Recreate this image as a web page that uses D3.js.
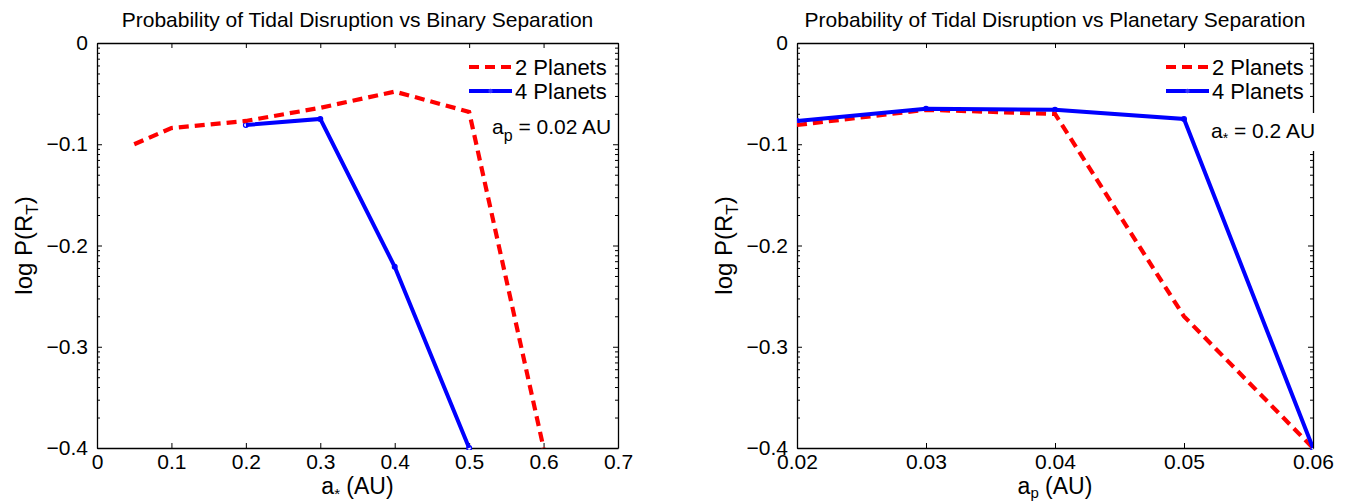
<!DOCTYPE html>
<html>
<head>
<meta charset="utf-8">
<script src="https://cdn.jsdelivr.net/npm/d3@7"></script>
<style>
  html, body { margin: 0; padding: 0; background: #fff; }
  svg { display: block; }
  text { font-family: "Liberation Sans", Arial, Helvetica, sans-serif; fill: #000; }
</style>
</head>
<body>
<svg id="chart" width="1345" height="502"></svg>
<script>
// ---------- data ----------
const binarySep2 = [0.05, 0.1, 0.2, 0.3, 0.4, 0.5, 0.6];
const binaryP2   = [-0.100, -0.084, -0.077, -0.064, -0.048, -0.068, -0.400];
const binarySep4 = [0.2, 0.3, 0.4, 0.5];
const binaryP4   = [-0.081, -0.075, -0.221, -0.400];

const planetSep  = [0.02, 0.03, 0.04, 0.05, 0.06];
const planetP2   = [-0.081, -0.066, -0.070, -0.270, -0.400];
const planetP4   = [-0.077, -0.065, -0.066, -0.075, -0.400];

const yTicks       = [0, -0.1, -0.2, -0.3, -0.4];
const xTicksLeft   = [0, 0.1, 0.2, 0.3, 0.4, 0.5, 0.6, 0.7];
const xTicksRight  = [0.02, 0.03, 0.04, 0.05, 0.06];
const xLabelsLeft  = ["0", "0.1", "0.2", "0.3", "0.4", "0.5", "0.6", "0.7"];
const xLabelsRight = ["0.02", "0.03", "0.04", "0.05", "0.06"];
const yLabels      = ["0", "\u22120.1", "\u22120.2", "\u22120.3", "\u22120.4"];
const seriesNames  = ["2 Planets", "4 Planets"];
const titles = ["Probability of Tidal Disruption vs Binary Separation",
                "Probability of Tidal Disruption vs Planetary Separation"];

// ---------- drawing ----------
const svg = d3.select("#chart");
const RED = "#ff0000", BLUE = "#0000ff";

function drawPanel(cfg, idx) {
  const x = d3.scaleLinear().domain(cfg.xDomain).range([cfg.left, cfg.right]);
  const y = d3.scaleLinear().domain([0, -0.4]).range([43, 448]);
  const g = svg.append("g");

  const clipId = "clip" + idx;
  svg.append("clipPath").attr("id", clipId).append("rect")
    .attr("x", cfg.left).attr("y", 43 - 2)
    .attr("width", cfg.right - cfg.left).attr("height", 448 - 43 + 4);

  // minor ticks on y (log-like pattern as in the original)
  const minor = [];
  yTicks.slice(0, -1).forEach(m => {
    for (let k = 2; k <= 9; k++) minor.push(m - 0.1 * (1 - Math.log10(k)));
  });

  const fmtX = (d, i) => cfg.xLabels[i];
  const axB = g.append("g").attr("transform", `translate(0,448)`)
    .call(d3.axisBottom(x).tickValues(cfg.xTicks).tickFormat(fmtX).tickSizeInner(-5).tickSizeOuter(0).tickPadding(6));
  g.append("g").attr("transform", `translate(0,43)`)
    .call(d3.axisTop(x).tickValues(cfg.xTicks).tickFormat("").tickSizeInner(-5).tickSizeOuter(0));
  g.append("g").attr("transform", `translate(${cfg.left},0)`)
    .call(d3.axisLeft(y).tickValues(yTicks).tickFormat((d, i) => yLabels[i]).tickSizeInner(-5).tickSizeOuter(0).tickPadding(9));
  g.append("g").attr("transform", `translate(${cfg.right},0)`)
    .call(d3.axisRight(y).tickValues(yTicks).tickFormat("").tickSizeInner(-5).tickSizeOuter(0));
  g.append("g").attr("transform", `translate(${cfg.left},0)`)
    .call(d3.axisLeft(y).tickValues(minor).tickFormat("").tickSizeInner(-3).tickSizeOuter(0))
    .select(".domain").remove();
  g.append("g").attr("transform", `translate(${cfg.right},0)`)
    .call(d3.axisRight(y).tickValues(minor).tickFormat("").tickSizeInner(-3).tickSizeOuter(0))
    .select(".domain").remove();

  g.selectAll(".domain").attr("stroke", "#000").attr("stroke-width", 1.3);
  g.selectAll(".tick line").attr("stroke", "#000").attr("stroke-width", 1);
  g.selectAll(".tick text").attr("font-size", 21).attr("font-family", '"Liberation Sans", Arial, sans-serif').attr("fill", "#000");
  axB.selectAll(".tick text").attr("dy", "0.71em");

  // title
  g.append("text").attr("x", (cfg.left + cfg.right) / 2).attr("y", 27)
    .attr("text-anchor", "middle").attr("font-size", 21).text(cfg.title);

  // x label
  const xl = g.append("text").attr("x", (cfg.left + cfg.right) / 2).attr("y", 494)
    .attr("text-anchor", "middle").attr("font-size", 23);
  xl.append("tspan").text("a");
  xl.append("tspan").attr("font-size", cfg.xSubSize).attr("dy", cfg.xSubDy).text(cfg.xSub);
  xl.append("tspan").attr("dy", -cfg.xSubDy).text(" (AU)");

  // y label
  const yl = g.append("text").attr("transform", `translate(${cfg.left - 65},245.5) rotate(-90)`)
    .attr("text-anchor", "middle").attr("font-size", 24);
  yl.append("tspan").text("log P(R");
  yl.append("tspan").attr("font-size", 17).attr("dy", 6).text("T");
  yl.append("tspan").attr("dy", -6).text(")");

  // lines
  const line = d3.line().x(d => x(d[0])).y(d => y(d[1]));
  const plot = g.append("g").attr("clip-path", `url(#${clipId})`);
  const d4 = cfg.x4.map((v, i) => [v, cfg.y4[i]]);
  const d2 = cfg.x2.map((v, i) => [v, cfg.y2[i]]);

  plot.selectAll("circle.m4").data(d4).enter().append("circle")
    .attr("cx", d => x(d[0])).attr("cy", d => y(d[1])).attr("r", 2.4)
    .attr("fill", "#fff").attr("stroke", BLUE).attr("stroke-width", 1.2);
  plot.append("path").datum(d2).attr("d", line).attr("fill", "none")
    .attr("stroke", RED).attr("stroke-width", 4.2).attr("stroke-dasharray", "10,6");
  plot.append("path").datum(d4).attr("d", line).attr("fill", "none")
    .attr("stroke", BLUE).attr("stroke-width", 4);

  // legend
  const lx0 = cfg.legX, lx1 = cfg.legX + 43;
  g.append("line").attr("x1", lx0).attr("x2", lx1).attr("y1", 67).attr("y2", 67)
    .attr("stroke", RED).attr("stroke-width", 4.2).attr("stroke-dasharray", "10,6");
  g.append("line").attr("x1", lx0).attr("x2", lx1).attr("y1", 91).attr("y2", 91)
    .attr("stroke", BLUE).attr("stroke-width", 4);
  g.append("circle").attr("cx", (lx0 + lx1) / 2).attr("cy", 91).attr("r", 2.2).attr("fill", "#3333ff");
  g.append("text").attr("x", lx1 + 3).attr("y", 75).attr("font-size", 22).text(seriesNames[0]);
  g.append("text").attr("x", lx1 + 3).attr("y", 99).attr("font-size", 22).text(seriesNames[1]);

  // annotation
  if (cfg.noteBg) {
    g.append("rect").attr("x", cfg.noteX - 4).attr("y", 113).attr("width", 116).attr("height", 38).attr("fill", "#fff");
  }
  const nt = g.append("text").attr("x", cfg.noteX).attr("y", cfg.noteY).attr("font-size", 21);
  nt.append("tspan").text("a");
  nt.append("tspan").attr("font-size", cfg.noteSubSize).attr("dy", cfg.noteSubDy).text(cfg.noteSub);
  nt.append("tspan").attr("dy", -cfg.noteSubDy).text(cfg.noteRest);
}

drawPanel({
  xDomain: [0, 0.7], left: 97, right: 618,
  xTicks: xTicksLeft, xLabels: xLabelsLeft, title: titles[0],
  xSub: "*", xSubSize: 15, xSubDy: 5,
  x2: binarySep2, y2: binaryP2, x4: binarySep4, y4: binaryP4,
  legX: 469, noteX: 492, noteY: 134, noteSub: "p", noteSubSize: 16, noteSubDy: 7,
  noteRest: " = 0.02 AU", noteBg: false
}, 0);

drawPanel({
  xDomain: [0.02, 0.06], left: 797, right: 1313,
  xTicks: xTicksRight, xLabels: xLabelsRight, title: titles[1],
  xSub: "p", xSubSize: 15, xSubDy: 4,
  x2: planetSep, y2: planetP2, x4: planetSep, y4: planetP4,
  legX: 1166, noteX: 1211, noteY: 138, noteSub: "*", noteSubSize: 14, noteSubDy: 5,
  noteRest: " = 0.2 AU", noteBg: true
}, 1);
</script>
</body>
</html>
